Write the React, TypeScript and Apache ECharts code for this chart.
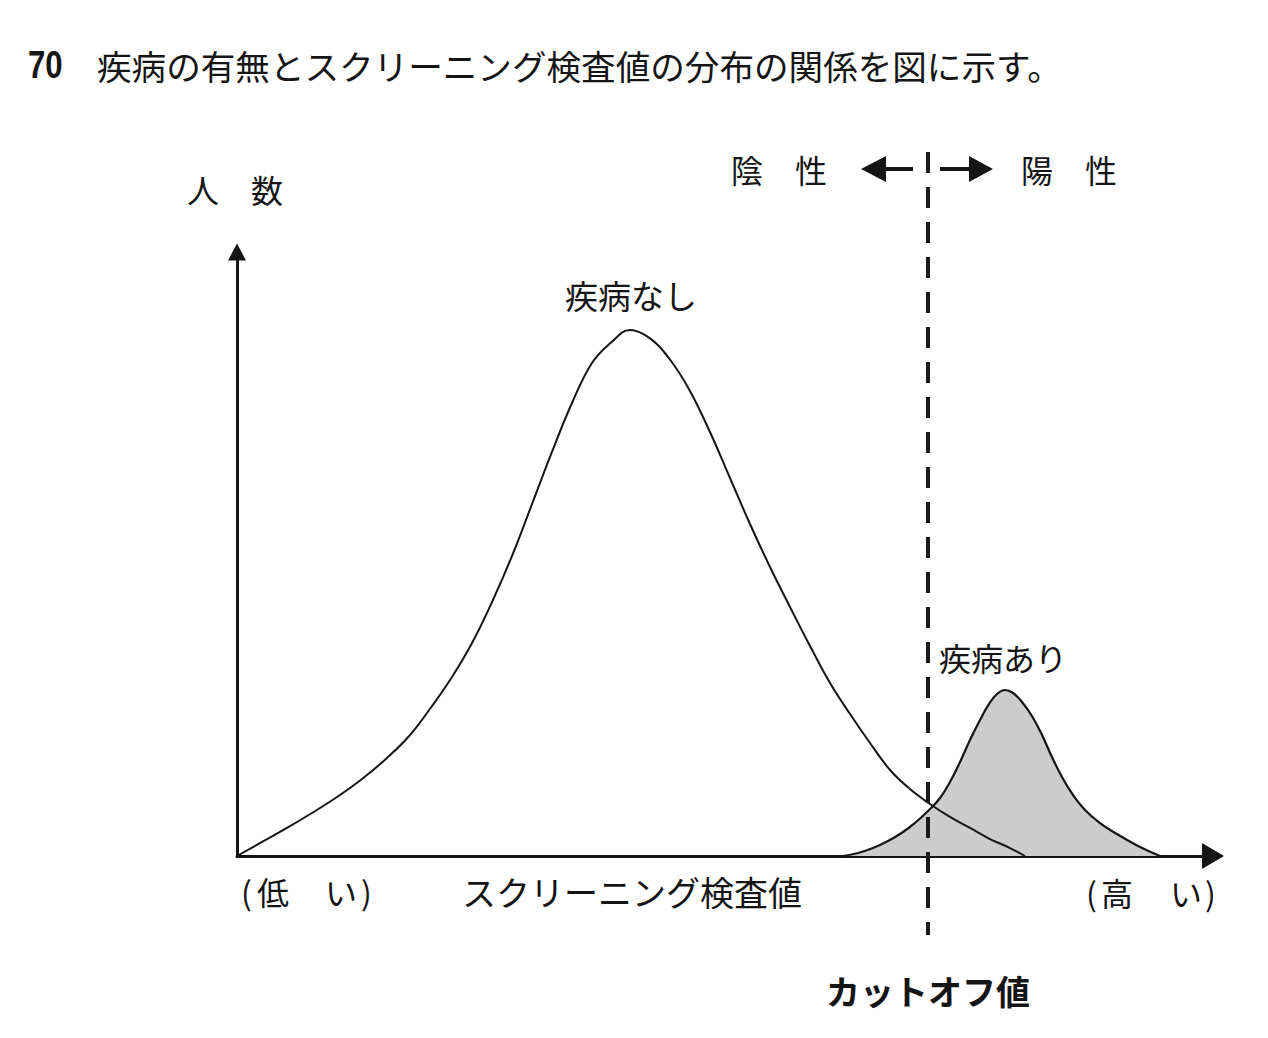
import React, { useEffect, useRef } from "react";
import * as echarts from "echarts";

// 疾病なし distribution (x: screening value 0-100, y: number of people 0-100)
const noDiseaseX = [0, 2.56, 5.12, 7.68, 10.25, 12.81, 15.37, 17.73, 19.98, 22.03, 24.08, 26.13, 28.18, 30.23, 32.27, 34.32, 36.37, 38.32, 40.27, 42.32, 44.36, 46.41, 48.46, 50.51, 52.56, 54.61, 56.66, 58.71, 60.76, 62.81, 64.86, 66.91, 68.95, 71.0, 73.05, 75.1, 77.15, 79.2, 80.74];
const noDiseaseY = [0, 2.32, 4.64, 7.12, 9.77, 12.75, 16.23, 20.03, 24.83, 29.64, 35.26, 42.05, 49.67, 58.28, 66.89, 75.0, 81.62, 85.0, 87.1, 85.7, 82.2, 77.0, 70.2, 62.58, 54.97, 47.85, 41.23, 34.77, 28.64, 23.51, 18.71, 14.24, 11.09, 8.61, 6.46, 4.64, 2.81, 1.32, 0];

// 疾病あり distribution
const diseaseX = [62.09, 63.63, 65.16, 66.7, 68.24, 69.57, 70.8, 72.03, 73.05, 74.08, 75.1, 76.13, 77.05, 77.87, 78.69, 79.51, 80.43, 81.45, 82.48, 83.5, 84.53, 85.66, 86.89, 88.42, 90.16, 92.32, 94.57];
const diseaseY = [0, 0.5, 1.32, 2.48, 3.97, 5.63, 7.45, 9.6, 12.25, 15.56, 19.21, 22.52, 25.17, 26.82, 27.48, 26.99, 25.5, 23.18, 20.03, 16.39, 13.08, 10.1, 7.62, 5.46, 3.64, 1.66, 0];

const cutoffValue = 70.8;

const titleNumber = "70";
const titleText = "疾病の有無とスクリーニング検査値の分布の関係を図に示す。";
const yAxisTitle = "人　数";
const negativeLabel = "陰　性";
const positiveLabel = "陽　性";
const noDiseaseLabel = "疾病なし";
const diseaseLabel = "疾病あり";
const lowLabelParts = ["(", "低", "い", ")"];
const highLabelParts = ["(", "高", "い", ")"];
const xAxisTitle = "スクリーニング検査値";
const cutoffLabel = "カットオフ値";

const JP = "'Noto Sans CJK JP', 'Noto Sans', sans-serif";
const INK = "#151515";

function txt(text: string, x: number, y: number, size: number, weight = "normal", align = "left") {
  return {
    type: "text",
    z: 50,
    style: {
      text,
      x,
      y,
      font: `${weight} ${size}px ${JP}`,
      fill: INK,
      align,
      verticalAlign: "middle",
      textAlign: align,
      textVerticalAlign: "middle",
    },
  };
}

export default function App() {
  const ref = useRef<HTMLDivElement>(null);

  useEffect(() => {
    const chart = echarts.init(ref.current!, null, { renderer: "svg" });
    const option: any = {
      animation: false,
      backgroundColor: "#ffffff",
      grid: { left: 237, top: 252, right: 55, bottom: 182, containLabel: false },
      xAxis: {
        type: "value",
        min: 0,
        max: 100,
        axisLine: {
          show: true,
          onZero: false,
          symbol: ["none", "triangle"],
          symbolSize: [26, 22],
          lineStyle: { color: INK, width: 3 },
        },
        axisTick: { show: false },
        axisLabel: { show: false },
        splitLine: { show: false },
      },
      yAxis: {
        type: "value",
        min: 0,
        max: 100,
        axisLine: {
          show: true,
          onZero: false,
          symbol: ["none", "triangle"],
          symbolSize: [18, 17],
          lineStyle: { color: INK, width: 3 },
        },
        axisTick: { show: false },
        axisLabel: { show: false },
        splitLine: { show: false },
      },
      series: [
        {
          name: diseaseLabel,
          type: "line",
          smooth: 0.45,
          showSymbol: false,
          z: 2,
          data: diseaseX.map((x, i) => [x, diseaseY[i]]),
          lineStyle: { color: INK, width: 2.2 },
          areaStyle: { color: "#cccccc", opacity: 1 },
        },
        {
          name: noDiseaseLabel,
          type: "line",
          smooth: 0.4,
          showSymbol: false,
          z: 3,
          data: noDiseaseX.map((x, i) => [x, noDiseaseY[i]]),
          lineStyle: { color: INK, width: 2 },
        },
      ],
    };
    chart.setOption(option);

    const cx = Math.round((chart.convertToPixel({ gridIndex: 0 }, [cutoffValue, 0]) as number[])[0]);

    const dashes: any[] = [];
    for (let y = 152; y < 935; y += 35) {
      dashes.push({
        type: "rect",
        z: 60,
        shape: { x: cx - 2, y, width: 4, height: Math.min(21, 935 - y) },
        style: { fill: "#1a1a1a" },
      });
    }

    chart.setOption({
      graphic: [
        {
          type: "text",
          x: 28,
          y: 65,
          scaleX: 0.82,
          z: 50,
          style: {
            text: titleNumber,
            x: 0,
            y: 0,
            font: `bold 38px 'Liberation Sans', Arial, sans-serif`,
            fill: INK,
            align: "left",
            verticalAlign: "middle",
            textAlign: "left",
            textVerticalAlign: "middle",
          },
        },
        txt(titleText, 97, 65, 34.6),
        txt(yAxisTitle, 187, 189, 32),
        txt(negativeLabel, 731, 169, 32),
        txt(positiveLabel, 1021, 169, 32),
        txt(noDiseaseLabel, 565, 295, 33),
        txt(diseaseLabel, 939, 657, 32),
        txt(lowLabelParts[0], 241, 891, 32),
        txt(lowLabelParts[1], 257, 891, 32),
        txt(lowLabelParts[2], 325, 891, 32),
        txt(lowLabelParts[3], 361, 891, 32),
        txt(xAxisTitle, 462, 891, 34),
        txt(highLabelParts[0], 1086, 892, 32),
        txt(highLabelParts[1], 1101, 892, 32),
        txt(highLabelParts[2], 1170, 892, 32),
        txt(highLabelParts[3], 1205, 892, 32),
        txt(cutoffLabel, 826, 990, 34, "bold"),
        ...dashes,
        {
          type: "line",
          z: 60,
          shape: { x1: cx - 44, y1: 169, x2: cx - 15, y2: 169 },
          style: { stroke: INK, lineWidth: 4 },
        },
        {
          type: "polygon",
          z: 60,
          shape: { points: [[cx - 67, 169], [cx - 42, 156], [cx - 42, 182]] },
          style: { fill: INK },
        },
        {
          type: "line",
          z: 60,
          shape: { x1: cx + 12, y1: 169, x2: cx + 44, y2: 169 },
          style: { stroke: INK, lineWidth: 4 },
        },
        {
          type: "polygon",
          z: 60,
          shape: { points: [[cx + 65, 169], [cx + 41, 156], [cx + 41, 182]] },
          style: { fill: INK },
        },
      ],
    });

    return () => chart.dispose();
  }, []);

  return (
    <div
      ref={ref}
      style={{ position: "fixed", left: 0, top: 0, width: 1268, height: 1038, background: "#ffffff" }}
    />
  );
}
